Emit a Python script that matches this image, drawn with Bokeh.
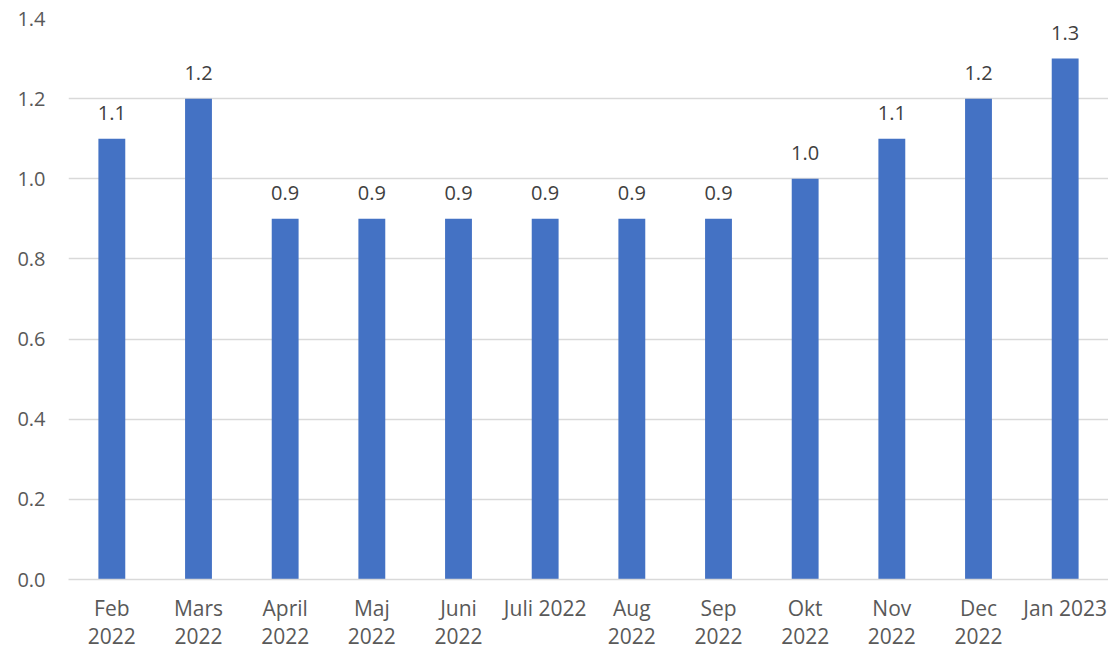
from bokeh.plotting import figure
from bokeh.models import ColumnDataSource, FixedTicker, NumeralTickFormatter, Range1d
from bokeh.core.properties import value
from bokeh.embed import file_html
from bokeh.resources import INLINE

categories = ["Feb\n2022", "Mars\n2022", "April\n2022", "Maj\n2022", "Juni\n2022", "Juli 2022",
              "Aug\n2022", "Sep\n2022", "Okt\n2022", "Nov\n2022", "Dec\n2022", "Jan 2023"]
values = [1.1, 1.2, 0.9, 0.9, 0.9, 0.9, 0.9, 0.9, 1.0, 1.1, 1.2, 1.3]
y_ticks = [0.0, 0.2, 0.4, 0.6, 0.8, 1.0, 1.2, 1.4]

FONT = "Open Sans"
FS = "20px"
xs = list(range(len(categories)))
src = ColumnDataSource(dict(x=xs, v=values, lab=[f"{v:.1f}" for v in values]))

p = figure(width=1108, height=652, output_backend="svg", toolbar_location=None,
           x_range=Range1d(-0.5, len(categories) - 0.5), y_range=Range1d(0, 1.4),
           min_border_left=68, min_border_right=0, min_border_top=18, min_border_bottom=60)
p.outline_line_color = None
p.background_fill_color = "white"

p.vbar(x="x", top="v", width=0.31, source=src, fill_color="#4472C4", line_color=None)
p.text(x="x", y="v", text="lab", source=src, text_align="center", text_baseline="bottom",
       y_offset=-19, text_font=value(FONT), text_font_size=FS, text_color="#404040")

p.xgrid.grid_line_color = None
p.ygrid.grid_line_color = "#d9d9d9"
p.ygrid.grid_line_width = 1.5
p.ygrid.ticker = FixedTicker(ticks=y_ticks)

p.yaxis.ticker = FixedTicker(ticks=y_ticks)
p.yaxis.formatter = NumeralTickFormatter(format="0.0")
p.yaxis.axis_line_color = None
p.yaxis.major_tick_line_color = None
p.yaxis.minor_tick_line_color = None
p.yaxis.major_label_text_font = FONT
p.yaxis.major_label_text_font_size = FS
p.yaxis.major_label_text_color = "#595959"
p.yaxis.major_label_standoff = 17

p.xaxis.ticker = FixedTicker(ticks=xs)
p.xaxis.major_label_overrides = {i: c for i, c in enumerate(categories)}
p.xaxis.axis_line_color = "#d9d9d9"
p.xaxis.axis_line_width = 1.5
p.xaxis.major_tick_line_color = None
p.xaxis.minor_tick_line_color = None
p.xaxis.major_label_text_font = FONT
p.xaxis.major_label_text_font_size = "21px"
p.xaxis.major_label_text_color = "#595959"
p.xaxis.major_label_text_line_height = 1.0
p.xaxis.major_label_standoff = 8

open("out.html", "w").write(file_html(p, INLINE))
